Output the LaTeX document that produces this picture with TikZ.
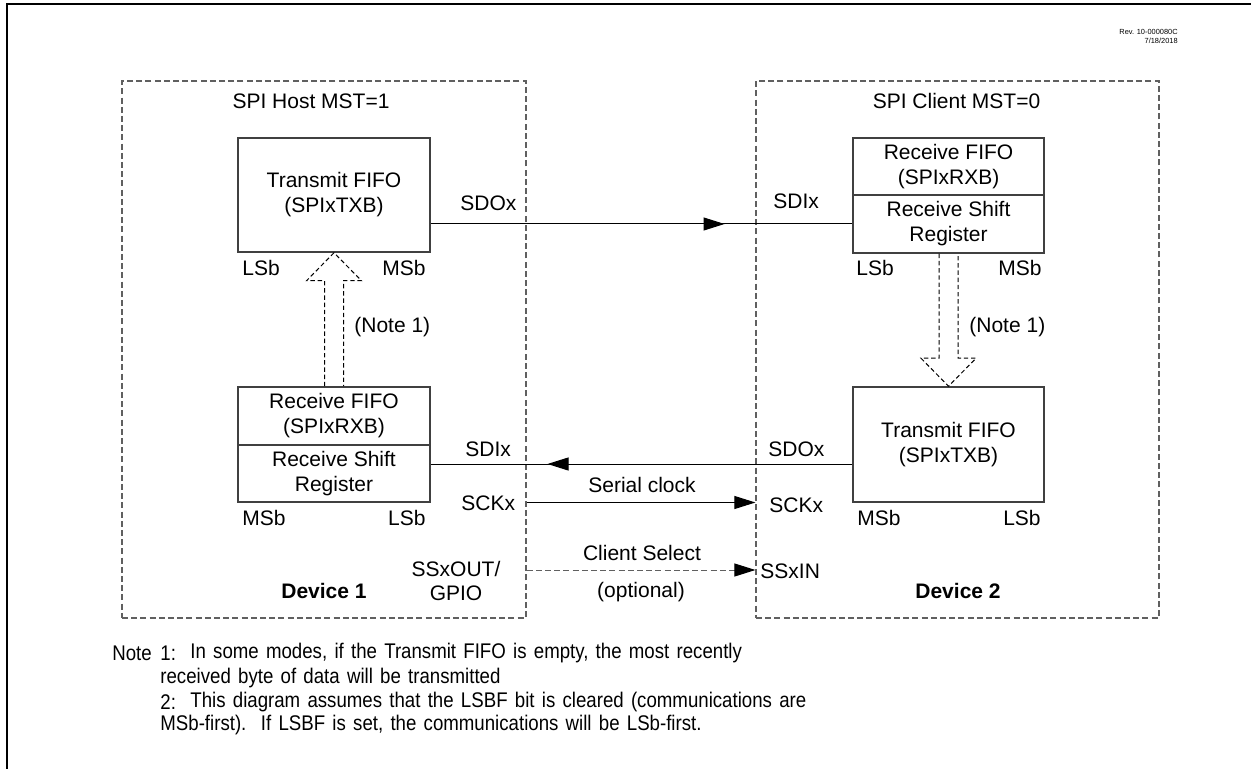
\documentclass[tikz,border=0pt]{standalone}
\usepackage{fontspec}
\setmainfont{Liberation Sans}
\newfontfamily\narrowfont[FakeStretch=0.88,WordSpace=1.4]{Liberation Sans}
\usetikzlibrary{arrows.meta,calc,decorations.markings}
\definecolor{boxgray}{HTML}{404040}
\definecolor{dashgray}{HTML}{606060}
\tikzset{
  devbox/.style={draw=dashgray,line width=0.6pt,dash pattern=on 3pt off 1.6pt,minimum width=#1,minimum height=268.5pt,inner sep=0pt},
  regbox/.style={draw=boxgray,line width=0.75pt,minimum width=96pt,inner sep=0pt,align=center,font=\fontsize{10.5}{12.5}\selectfont},
  lbl/.style={inner sep=0pt,font=\fontsize{10.5}{12}\selectfont},
  notelbl/.style={inner sep=0pt,anchor=west,font=\narrowfont\fontsize{10.6}{12}\selectfont},
  conn/.style={draw=black,line width=0.5pt},
  hollow/.style={draw=black,line width=0.5pt,dash pattern=on 2.2pt off 1.4pt},
  endtri/.style={-{Triangle[length=10.5pt,width=6.5pt,color=black,fill=black]}},
  midtri/.style={postaction={decorate},decoration={markings,mark=at position #1 with {\arrow{Triangle[length=10.5pt,width=6.5pt]}}}}
}
\begin{document}
\begin{tikzpicture}[x=0.5pt,y=-0.5pt]
\useasboundingbox (0,0) rectangle (1251,769);
% outer frame
\draw[line width=1pt] (7,769) -- (7,4.3) -- (1251,4.3);
\node[lbl,anchor=east,font=\fontsize{3.7}{4.4}\selectfont,align=right] (rev) at (1178,36.5) {Rev. 10-000080C\\7/18/2018};

% device boxes
\node[devbox=202pt] (dev1) at (324,349.5) {};
\node[devbox=201.5pt] (dev2) at (957.5,349.5) {};
\node[lbl] (host) at (311,101) {SPI Host MST=1};
\node[lbl] (client) at (956.5,101) {SPI Client MST=0};
\node[lbl,font=\bfseries\fontsize{10.5}{12}\selectfont] (d1) at (324,591) {Device 1};
\node[lbl,font=\bfseries\fontsize{10.5}{12}\selectfont] (d2) at (958,591) {Device 2};

% registers
\node[regbox,minimum height=57pt] (txL) at (334,195) {Transmit FIFO\\(SPIxTXB)};
\node[regbox,minimum height=29pt] (rxLtop) at (334,416) {Receive FIFO\\(SPIxRXB)};
\node[regbox,minimum height=28.5pt] (rxLbot) at (334,473.5) {Receive Shift\\Register};
\node[regbox,minimum height=28.5pt,minimum width=95.5pt] (rxRtop) at (948.5,166.5) {Receive FIFO\\(SPIxRXB)};
\node[regbox,minimum height=29pt,minimum width=95.5pt] (rxRbot) at (948.5,224) {Receive Shift\\Register};
\node[regbox,minimum height=57.5pt,minimum width=95.5pt] (txR) at (948.5,444.5) {Transmit FIFO\\(SPIxTXB)};

% bit order labels
\node[lbl,anchor=west] (l1) at (242,268) {LSb};
\node[lbl,anchor=east] (m1) at (426,268) {MSb};
\node[lbl,anchor=west] (l2) at (856,268) {LSb};
\node[lbl,anchor=east] (m2) at (1042,268) {MSb};
\node[lbl,anchor=west] (m3) at (242,518) {MSb};
\node[lbl,anchor=east] (l3) at (426,518) {LSb};
\node[lbl,anchor=west] (m4) at (857,518) {MSb};
\node[lbl,anchor=east] (l4) at (1041,518) {LSb};

% hollow transfer arrows
\draw[hollow] ($(rxLtop.north)+(-9.5,0)$) -- ($(txL.south)+(-9.5,28)$) -- ($(txL.south)+(-27.5,28)$) -- (txL.south) -- ($(txL.south)+(27.5,28)$) -- ($(txL.south)+(9.5,28)$) -- ($(rxLtop.north)+(9.5,0)$);
\draw[hollow] ($(rxRbot.south)+(-9.5,0)$) -- ($(txR.north)+(-9.5,-28)$) -- ($(txR.north)+(-27.5,-28)$) -- (txR.north) -- ($(txR.north)+(27.5,-28)$) -- ($(txR.north)+(9.5,-28)$) -- ($(rxRbot.south)+(9.5,0)$);
\node[lbl,anchor=west] (n1) at (354,327) {(Note 1)};
\node[lbl,anchor=west] (n2) at (969,327) {(Note 1)};

% signal labels
\node[lbl,anchor=west] (sdoL) at (460,203) {SDOx};
\node[lbl,anchor=west] (sdiR) at (773,201) {SDIx};
\node[lbl,anchor=west] (sdiL) at (465,449) {SDIx};
\node[lbl,anchor=west] (sdoR) at (768,449) {SDOx};
\node[lbl,anchor=west] (sckL) at (461,503) {SCKx};
\node[lbl,anchor=west] (sckR) at (769,505) {SCKx};
\node[lbl] (serclk) at (642,485) {Serial clock};
\node[lbl] (csel) at (642,553) {Client Select};
\node[lbl] (opt) at (641,592) {(optional)};
\node[lbl,align=center,font=\fontsize{10.5}{12}\selectfont] (ssout) at (456,580.5) {SSxOUT/\\GPIO};
\node[lbl,anchor=west] (ssin) at (760,571) {SSxIN};

% connectors
\coordinate (sdoStart) at ($(txL.east |- rxRbot.west)$);
\draw[conn,midtri=0.697] (sdoStart) -- (rxRbot.west);
\coordinate (sdiStart) at ($(txR.west)+(0,19.5)$);
\draw[conn,midtri=0.723] (sdiStart) -- (rxLbot.east |- sdiStart);
\coordinate (sckA) at ($(dev1.east)+(0,153)$);
\draw[conn,endtri] (sckA) -- (dev2.west |- sckA);
\coordinate (ssA) at ($(dev1.east)+(0,220.5)$);
\draw[conn,draw=dashgray,dash pattern=on 3pt off 1.6pt,endtri] (ssA) -- (dev2.west |- ssA);

% notes
\node[notelbl] (note) at (112,653) {Note};
\node[notelbl] (note1) at (160,653) {1:};
\node[notelbl] (note1a) at (190,653) {In some modes, if the Transmit FIFO is empty, the most recently};
\node[notelbl] (note1b) at (160,678) {received byte of data will be transmitted};
\node[notelbl] (note2) at (160,702) {2:};
\node[notelbl] (note2a) at (190,702) {This diagram assumes that the LSBF bit is cleared (communications are};
\node[notelbl] (note2b) at (160,725) {MSb-first).\ \ If LSBF is set, the communications will be LSb-first.};
\end{tikzpicture}
\end{document}
